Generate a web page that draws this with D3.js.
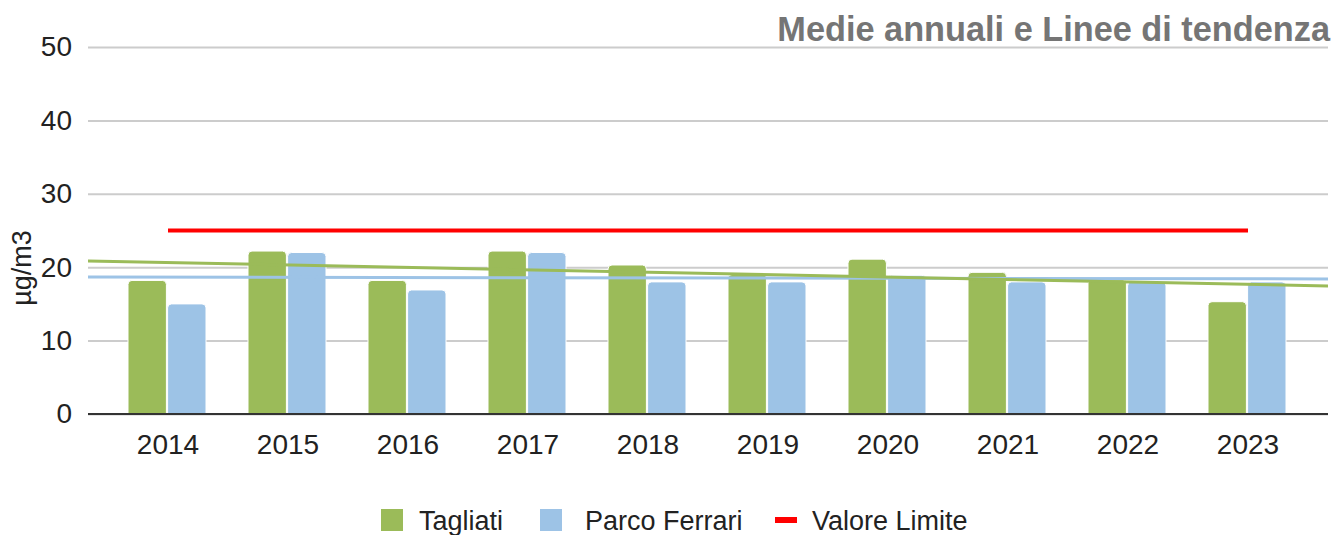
<!DOCTYPE html>
<html>
<head>
<meta charset="utf-8">
<script src="https://cdn.jsdelivr.net/npm/d3@7"></script>
<style>
  body { margin: 0; background: #fff; }
  svg { display: block; font-family: "Liberation Sans", Arial, sans-serif; }
</style>
</head>
<body>
<div id="chart"></div>
<script>
// values
const years = ["2014", "2015", "2016", "2017", "2018", "2019", "2020", "2021", "2022", "2023"];
const tagliati = [18.2, 22.2, 18.2, 22.2, 20.3, 19.0, 21.1, 19.3, 18.3, 15.3];
const parcoFerrari = [15.0, 22.0, 16.9, 22.0, 18.0, 18.0, 18.9, 18.0, 18.0, 18.0];
const valoreLimite = [25, 25, 25, 25, 25, 25, 25, 25, 25, 25];
// trend lines: value at the left and right edge of the plot
const trendTagliati = [20.85, 17.45];
const trendParco = [18.65, 18.4];
const yTicks = [0, 10, 20, 30, 40, 50];

const width = 1335, height = 535;
const margin = {top: 47, right: 7, bottom: 121, left: 88};

const svg = d3.select("#chart").append("svg")
    .attr("width", width)
    .attr("height", height);

const x = d3.scaleBand()
    .domain(years)
    .range([margin.left, width - margin.right])
    .paddingInner(0)
    .paddingOuter(1 / 6);

const y = d3.scaleLinear()
    .domain([0, 50])
    .range([height - margin.bottom, margin.top]);

const series = [
  {name: "Tagliati", values: tagliati, color: "#9bbb59"},
  {name: "Parco Ferrari", values: parcoFerrari, color: "#9dc3e6"}
];

const xSub = d3.scaleBand()
    .domain(series.map(d => d.name))
    .range([-40, 38])
    .paddingInner(0.03);

// gridlines + y labels
const yAxis = svg.append("g")
    .attr("transform", `translate(${margin.left},0)`)
    .call(d3.axisLeft(y).tickValues(yTicks).tickSize(-(width - margin.left - margin.right)).tickPadding(16));
yAxis.select(".domain").remove();
yAxis.selectAll(".tick line").attr("stroke", "#cccccc").attr("stroke-width", 2);
yAxis.selectAll(".tick text")
    .attr("font-size", 28)
    .attr("fill", "#222")
    .attr("font-family", "Liberation Sans, Arial, sans-serif");

// rounded-top bar path
function barPath(x0, w, yTop, yBase, r) {
  r = Math.min(r, w / 2, yBase - yTop);
  return `M${x0},${yBase}V${yTop + r}Q${x0},${yTop} ${x0 + r},${yTop}H${x0 + w - r}Q${x0 + w},${yTop} ${x0 + w},${yTop + r}V${yBase}Z`;
}

const groups = svg.append("g")
  .selectAll("g")
  .data(years)
  .join("g")
    .attr("transform", d => `translate(${x(d) + x.bandwidth() / 2},0)`);

groups.selectAll("path")
  .data((d, i) => series.map(s => ({name: s.name, value: s.values[i], color: s.color})))
  .join("path")
    .attr("d", d => barPath(xSub(d.name), xSub.bandwidth(), y(d.value), y(0), 4))
    .attr("fill", d => d.color)
    .attr("stroke", "#fff")
    .attr("stroke-width", 1);

// baseline
svg.append("line")
    .attr("x1", margin.left).attr("x2", width - margin.right)
    .attr("y1", y(0)).attr("y2", y(0))
    .attr("stroke", "#333").attr("stroke-width", 2);

// x labels
const xAxis = svg.append("g")
    .attr("transform", `translate(0,${y(0)})`)
    .call(d3.axisBottom(x).tickSize(0).tickPadding(20));
xAxis.select(".domain").remove();
xAxis.selectAll(".tick text")
    .attr("font-size", 28)
    .attr("fill", "#222")
    .attr("font-family", "Liberation Sans, Arial, sans-serif");

// trend lines
const edges = x.range();
const trendLine = d3.line().x((d, i) => edges[i]).y(d => y(d));
svg.append("path").datum(trendParco)
    .attr("d", trendLine).attr("fill", "none")
    .attr("stroke", "#9dc3e6").attr("stroke-width", 3);
svg.append("path").datum(trendTagliati)
    .attr("d", trendLine).attr("fill", "none")
    .attr("stroke", "#9bbb59").attr("stroke-width", 3);

// limit line
const limitLine = d3.line()
    .x((d, i) => x(years[i]) + x.bandwidth() / 2)
    .y(d => y(d));
svg.append("path").datum(valoreLimite)
    .attr("d", limitLine).attr("fill", "none")
    .attr("stroke", "#ff0000").attr("stroke-width", 4);

// y title
svg.append("text")
    .attr("transform", `translate(31,268) rotate(-90)`)
    .attr("text-anchor", "middle")
    .attr("font-size", 27)
    .attr("fill", "#222")
    .text("µg/m3");

// chart title
svg.append("text")
    .attr("x", 1330).attr("y", 41)
    .attr("text-anchor", "end")
    .attr("font-size", 34.3)
    .attr("font-weight", "bold")
    .attr("fill", "#757575")
    .text("Medie annuali e Linee di tendenza");

// legend
const legendItems = [
  {name: "Tagliati", color: "#9bbb59", type: "box", x: 381, tx: 38},
  {name: "Parco Ferrari", color: "#9dc3e6", type: "box", x: 540, tx: 45},
  {name: "Valore Limite", color: "#ff0000", type: "line", x: 775, tx: 37}
];
const legend = svg.append("g")
  .selectAll("g")
  .data(legendItems)
  .join("g")
    .attr("transform", d => `translate(${d.x},520)`);
legend.filter(d => d.type === "box").append("rect")
    .attr("x", 0).attr("y", -11).attr("width", 22).attr("height", 22)
    .attr("fill", d => d.color);
legend.filter(d => d.type === "line").append("rect")
    .attr("x", 0).attr("y", -3).attr("width", 22).attr("height", 6)
    .attr("fill", d => d.color);
legend.append("text")
    .attr("x", d => d.tx)
    .attr("y", 10)
    .attr("font-size", 27)
    .attr("fill", "#222")
    .text(d => d.name);
</script>
</body>
</html>
